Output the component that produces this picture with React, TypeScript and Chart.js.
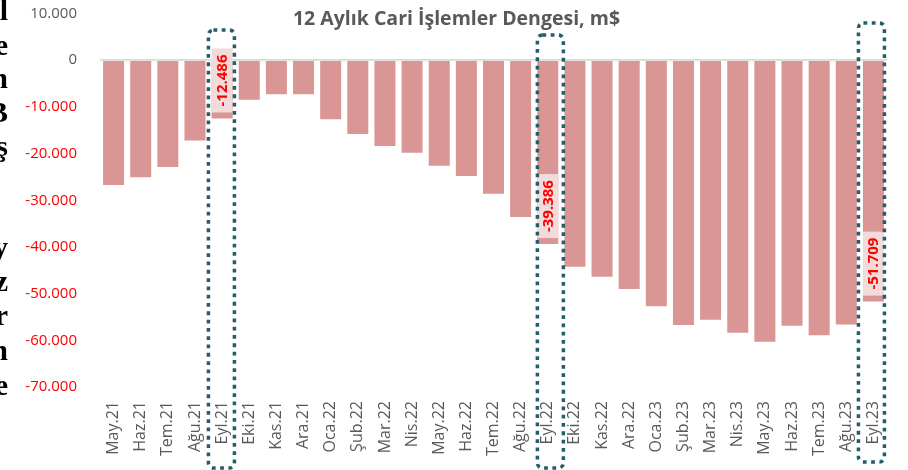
import React, { useEffect, useRef } from "react";
import { Chart, registerables } from "chart.js";

Chart.register(...registerables);

const categories = [
  "May.21", "Haz.21", "Tem.21", "Ağu.21", "Eyl.21", "Eki.21", "Kas.21", "Ara.21",
  "Oca.22", "Şub.22", "Mar.22", "Nis.22", "May.22", "Haz.22", "Tem.22", "Ağu.22",
  "Eyl.22", "Eki.22", "Kas.22", "Ara.22", "Oca.23", "Şub.23", "Mar.23", "Nis.23",
  "May.23", "Haz.23", "Tem.23", "Ağu.23", "Eyl.23",
];

const balance = [
  -26760, -25050, -22900, -17200, -12486, -8500, -7280, -7280,
  -12630, -15800, -18400, -19800, -22600, -24800, -28600, -33600,
  -39386, -44250, -46400, -49000, -52700, -56700, -55600, -58400,
  -60300, -56900, -58900, -56600, -51709,
];

const highlighted = ["Eyl.21", "Eyl.22", "Eyl.23"];

const yMin = -70000;
const yMax = 10000;
const yStep = 10000;

const titleText = "12 Aylık Cari İşlemler Dengesi, m$";

const sideLetters = ["l", "e", "n", "B", "ş", "", "", "y", "z", "r", "n", "e"];

// styling (not data)
const boxStyles = [
  { dx: -0.7, top: 30, bottom: 468 },
  { dx: 2.6, top: 35, bottom: 468 },
  { dx: -2, top: 23, bottom: 462 },
];
const letterBaselines = [20, 55, 88, 122, 156, 190, 224, 257, 291, 325, 360, 395];

function fmt(v: number): string {
  const neg = v < 0;
  const s = Math.abs(Math.round(v)).toString().replace(/\B(?=(\d{3})+(?!\d))/g, ".");
  return (neg ? "-" : "") + s;
}

const FONT = '"Open Sans", sans-serif';

export default function App() {
  const canvasRef = useRef<HTMLCanvasElement | null>(null);

  useEffect(() => {
    document.body.style.margin = "0";
    const canvas = canvasRef.current;
    if (!canvas) return;

    const hiIdx = highlighted.map((h) => categories.indexOf(h));

    const overlayPlugin = {
      id: "overlay",
      afterDatasetsDraw(chart: any) {
        const ctx = chart.ctx;
        const meta = chart.getDatasetMeta(0);
        hiIdx.forEach((i) => {
          const el = meta.data[i];
          const { x, y, width } = el.getProps(["x", "y", "width"], true);
          const boxH = 64;
          const gap = 6;
          ctx.save();
          ctx.fillStyle = "#F2DCDB";
          ctx.fillRect(x - width / 2, y - gap - boxH, width, boxH);
          ctx.translate(x + 0.5, y - gap - boxH / 2);
          ctx.rotate(-Math.PI / 2);
          ctx.font = "bold 15px " + FONT;
          ctx.fillStyle = "#FF0000";
          ctx.textAlign = "center";
          ctx.textBaseline = "middle";
          ctx.fillText(fmt(balance[i]), 0, 0);
          ctx.restore();
        });
      },
      afterDraw(chart: any) {
        const ctx = chart.ctx;
        const xs = chart.scales.x;
        // title
        ctx.save();
        ctx.font = "bold 19.5px " + FONT;
        ctx.fillStyle = "#595959";
        ctx.textAlign = "center";
        ctx.textBaseline = "alphabetic";
        ctx.fillText(titleText, 456.5, 24.5);
        ctx.restore();
        // dotted boxes
        hiIdx.forEach((i, k) => {
          const st = boxStyles[k];
          const cx = xs.getPixelForValue(i) + st.dx;
          const half = 13;
          ctx.save();
          ctx.strokeStyle = "#245E6B";
          ctx.lineWidth = 3.5;
          ctx.setLineDash([3.8, 4.5]);
          ctx.beginPath();
          if ((ctx as any).roundRect) {
            (ctx as any).roundRect(cx - half, st.top, half * 2, st.bottom - st.top, 5);
          } else {
            ctx.rect(cx - half, st.top, half * 2, st.bottom - st.top);
          }
          ctx.stroke();
          ctx.restore();
        });
      },
    };

    const chart = new Chart(canvas, {
      type: "bar",
      data: {
        labels: categories,
        datasets: [
          {
            data: balance,
            backgroundColor: "#D99694",
            borderWidth: 0,
            categoryPercentage: 1,
            barPercentage: 0.774,
          },
        ],
      },
      options: {
        responsive: true,
        maintainAspectRatio: false,
        animation: false,
        layout: { padding: { left: 0, right: 21, top: 13.5, bottom: 0 } },
        plugins: {
          legend: { display: false },
          title: { display: false },
          tooltip: { enabled: false },
        },
        scales: {
          x: {
            grid: { display: false, drawTicks: false },
            border: { display: false },
            ticks: {
              autoSkip: false,
              minRotation: 90,
              maxRotation: 90,
              padding: 14,
              color: "#595959",
              font: { family: FONT, size: 16 },
            },
            afterFit(scale: any) {
              scale.height = 83;
              scale.paddingRight = 0;
              scale.paddingLeft = 0;
            },
          },
          y: {
            min: yMin,
            max: yMax,
            grid: {
              drawTicks: false,
              color: (c: any) => (c.tick && c.tick.value === 0 ? "#D9D9D9" : "rgba(0,0,0,0)"),
              lineWidth: 1.7,
            },
            border: { display: false },
            ticks: {
              stepSize: yStep,
              padding: 23,
              color: (c: any) => (c.tick && c.tick.value < 0 ? "#FF0000" : "#595959"),
              font: { family: FONT, size: 15 },
              callback: (v: any) => fmt(Number(v)),
            },
            afterFit(scale: any) {
              scale.width = 100;
              scale.paddingTop = 0;
              scale.paddingBottom = 0;
            },
          },
        },
      },
      plugins: [overlayPlugin],
    });

    return () => {
      chart.destroy();
    };
  }, []);

  return (
    <div style={{ position: "relative", width: 908, height: 470, overflow: "hidden", background: "#fff" }}>
      <canvas ref={canvasRef} />
      {sideLetters.map((ch, i) =>
        ch ? (
          <div
            key={i}
            style={{
              position: "absolute",
              left: 8,
              top: letterBaselines[i] - 25,
              transform: "translateX(-100%)",
              fontFamily: '"Liberation Serif", serif',
              fontWeight: "bold",
              fontSize: 30,
              lineHeight: "30px",
              color: "#000",
              whiteSpace: "nowrap",
            }}
          >
            {ch}
          </div>
        ) : null
      )}
    </div>
  );
}
